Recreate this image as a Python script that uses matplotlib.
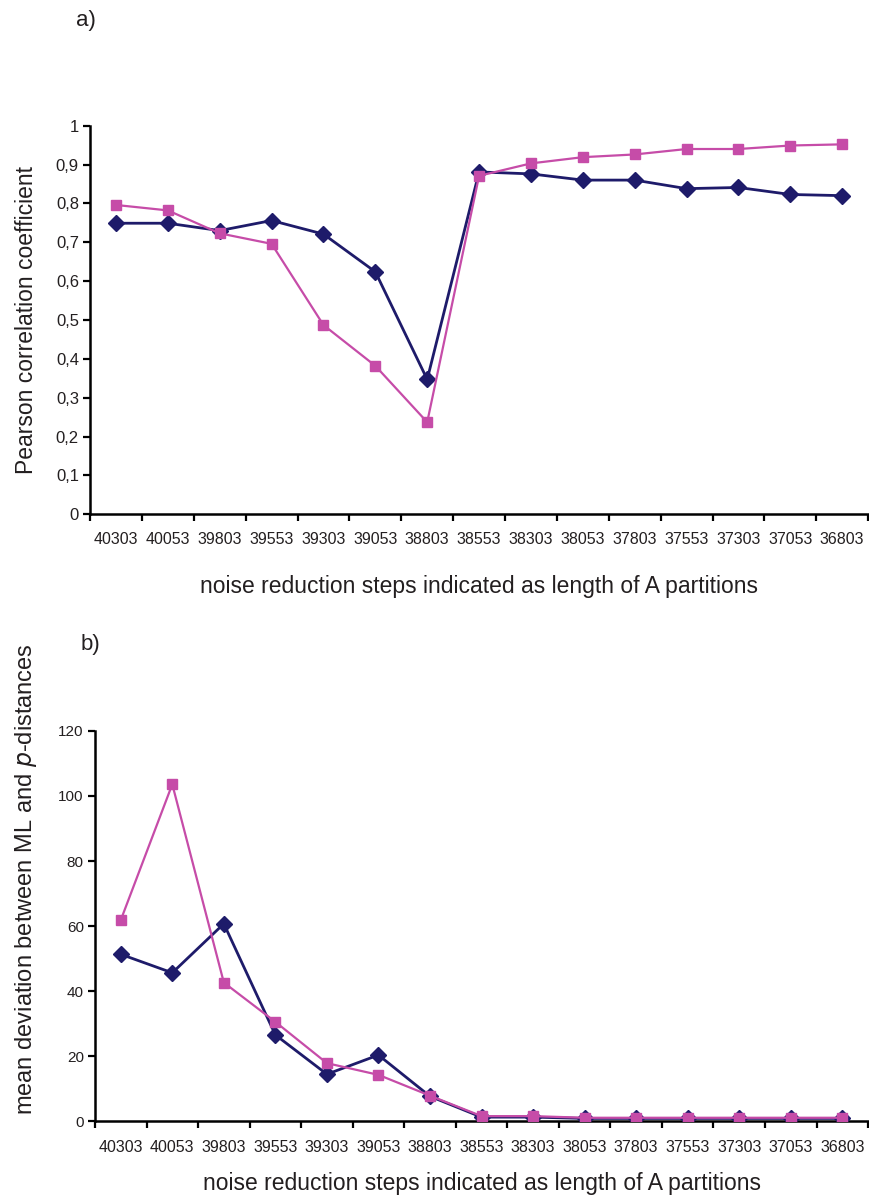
import matplotlib.pyplot as plt
from matplotlib.ticker import FuncFormatter, MultipleLocator

plt.rcParams['font.family'] = ['Liberation Sans', 'DejaVu Sans']

# ---- DATA ----
steps = ["40303", "40053", "39803", "39553", "39303", "39053", "38803", "38553",
         "38303", "38053", "37803", "37553", "37303", "37053", "36803"]

pearson_navy = [0.749, 0.749, 0.730, 0.756, 0.721, 0.624, 0.347, 0.881,
                0.876, 0.860, 0.860, 0.838, 0.841, 0.823, 0.820]
pearson_pink = [0.796, 0.782, 0.723, 0.696, 0.487, 0.382, 0.237, 0.871,
                0.903, 0.919, 0.926, 0.940, 0.940, 0.949, 0.952]

dev_navy = [51.3, 45.6, 60.7, 26.5, 14.4, 20.3, 7.6, 1.2,
            1.2, 0.8, 0.8, 0.8, 0.8, 0.8, 0.8]
dev_pink = [61.8, 103.6, 42.6, 30.5, 17.8, 14.2, 7.8, 1.5,
            1.5, 1.0, 1.0, 1.0, 1.0, 1.0, 1.0]

NAVY = "#1e1b6a"
PINK = "#c64ca8"
TXT = "#231f20"
xlabel = "noise reduction steps indicated as length of A partitions"


def style_axes(ax, ysize, xpad):
    n = len(steps)
    x = list(range(n))
    ax.set_xlim(-0.5, n - 0.5)
    # ticks sit between categories, labels at the category centres
    ax.set_xticks([i - 0.5 for i in range(n + 1)])
    ax.set_xticklabels([])
    ax.set_xticks(x, minor=True)
    ax.set_xticklabels(steps, minor=True)
    ax.tick_params(axis="x", which="major", direction="out", length=5, width=1.6, color="black")
    ax.tick_params(axis="x", which="minor", length=0, pad=xpad, labelsize=11.5, labelcolor=TXT)
    ax.tick_params(axis="y", direction="out", length=5, width=1.6, labelsize=ysize,
                   labelcolor=TXT, pad=3)
    for s in ["top", "right"]:
        ax.spines[s].set_visible(False)
    for s in ["left", "bottom"]:
        ax.spines[s].set_linewidth(1.8)
        ax.spines[s].set_color("black")
    return x


fig = plt.figure(figsize=(8.69, 11.96), dpi=100)

# ---- a) Pearson correlation ----
ax1 = fig.add_axes([0.1036, 0.5700, 0.8954, 0.3249])
x = style_axes(ax1, 12, 13)
ax1.plot(x, pearson_navy, color=NAVY, lw=2, marker="D", ms=8, mec=NAVY, zorder=3)
ax1.plot(x, pearson_pink, color=PINK, lw=1.6, marker="s", ms=7.5, mec=PINK, zorder=4)
ax1.set_ylim(0, 1)
ax1.yaxis.set_major_locator(MultipleLocator(0.1))
ax1.yaxis.set_major_formatter(FuncFormatter(
    lambda v, p: "0" if abs(v) < 1e-9 else ("1" if abs(v - 1) < 1e-9 else ("%.1f" % v).replace(".", ","))))
ax1.set_ylabel("Pearson correlation coefficient", fontsize=16.5, color=TXT, labelpad=13)
ax1.set_xlabel(xlabel, fontsize=16.5, color=TXT, labelpad=20)
fig.text(0.088, 0.983, "a)", fontsize=16, color=TXT, va="center")

# ---- b) mean deviation ML vs p-distances ----
ax2 = fig.add_axes([0.1093, 0.0627, 0.8896, 0.3261])
x = style_axes(ax2, 11, 14)
ax2.plot(x, dev_navy, color=NAVY, lw=2, marker="D", ms=8, mec=NAVY, zorder=3)
ax2.plot(x, dev_pink, color=PINK, lw=1.6, marker="s", ms=7.5, mec=PINK, zorder=4)
ax2.set_ylim(0, 120)
ax2.yaxis.set_major_locator(MultipleLocator(20))
ax2.set_ylabel("mean deviation between ML and $\\mathit{p}$-distances", fontsize=17,
               color=TXT)
ax2.yaxis.set_label_coords(-0.072, 0.62)
ax2.set_xlabel(xlabel, fontsize=16.5, color=TXT, labelpad=12)
fig.text(0.093, 0.461, "b)", fontsize=16, color=TXT, va="center")

fig.savefig("out.png", dpi=100)
